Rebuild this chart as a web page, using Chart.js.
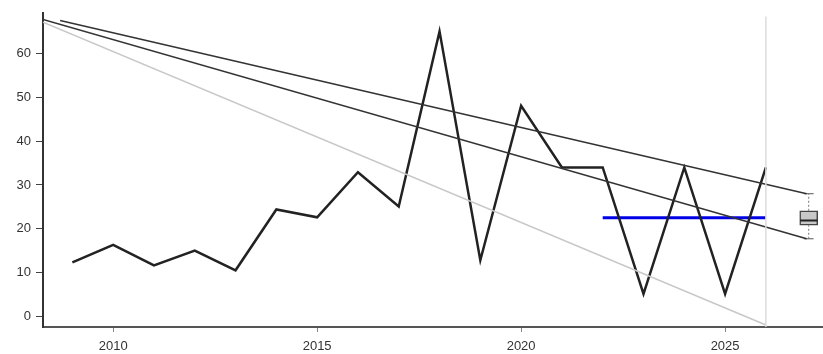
<!DOCTYPE html>
<html>
<head>
<meta charset="utf-8">
<script src="https://cdn.jsdelivr.net/npm/chart.js@4"></script>
<style>
  html, body { margin: 0; padding: 0; background: #fff; }
  #wrap { width: 823px; height: 354px; }
</style>
</head>
<body>
<div id="wrap"><canvas id="chart" width="823" height="354"></canvas></div>
<script>
// values
const years = [2009, 2010, 2011, 2012, 2013, 2014, 2015, 2016, 2017, 2018, 2019, 2020, 2021, 2022, 2023, 2024, 2025, 2026];
const values = [12.3, 16.3, 11.6, 15.0, 10.5, 24.4, 22.6, 32.9, 25.1, 65.1, 12.8, 48.1, 34.0, 34.0, 5.1, 34.0, 5.1, 34.0];

const upperTrendYears = [2008.7, 2027.0];
const upperTrend = [67.6, 28.0];
const lowerTrendYears = [2008.28, 2027.0];
const lowerTrend = [67.8, 17.7];
const grayTrendYears = [2008.28, 2026.0];
const grayTrend = [67.2, -2.0];

const meanYears = [2022, 2026];
const meanValue = 22.5;

const markerYear = 2026;

// box: min, q1, median, q3, max
const boxYear = 2027.05;
const boxStats = [17.7, 20.8, 21.9, 24.1, 28.0];

const xTicks = [2010, 2015, 2020, 2025];
const yTicks = [0, 10, 20, 30, 40, 50, 60];

const pts = (xs, ys) => xs.map((x, i) => ({ x: x, y: ys[i] }));

function lineSet(data, color, width, extra) {
    return Object.assign({
        type: 'line',
        data: data,
        borderColor: color,
        borderWidth: width,
        pointRadius: 0,
        fill: false,
        tension: 0
    }, extra || {});
}

const datasets = [
    lineSet([{ x: markerYear, y: -2.5 }, { x: markerYear, y: 68.5 }], '#dcdcdc', 1.5),
    lineSet(pts(grayTrendYears, grayTrend), '#c8c8c8', 1.5),
    lineSet(pts(upperTrendYears, upperTrend), '#333333', 1.5),
    lineSet(pts(lowerTrendYears, lowerTrend), '#333333', 1.5),
    lineSet(pts(years, values), '#222222', 2.5),
    lineSet(pts(meanYears, [meanValue, meanValue]), '#0000e6', 3),
    // whiskers
    lineSet([{ x: boxYear, y: boxStats[3] }, { x: boxYear, y: boxStats[4] }], '#777777', 1, { borderDash: [2, 2] }),
    lineSet([{ x: boxYear, y: boxStats[0] }, { x: boxYear, y: boxStats[1] }], '#777777', 1, { borderDash: [2, 2] }),
    lineSet([{ x: boxYear - 0.12, y: boxStats[4] }, { x: boxYear + 0.12, y: boxStats[4] }], '#555555', 1),
    lineSet([{ x: boxYear - 0.12, y: boxStats[0] }, { x: boxYear + 0.12, y: boxStats[0] }], '#555555', 1),
    lineSet([{ x: boxYear - 0.21, y: boxStats[2] }, { x: boxYear + 0.21, y: boxStats[2] }], '#222222', 2),
    {
        type: 'bar',
        data: [{ x: boxYear, y: [boxStats[1], boxStats[3]] }],
        backgroundColor: '#c8c8c8',
        borderColor: '#444444',
        borderWidth: 1.5,
        borderSkipped: false,
        barThickness: 18,
        grouped: false,
        order: 1
    }
];

const tickFont = { family: 'Liberation Sans, Arial, sans-serif', size: 13 };

new Chart(document.getElementById('chart'), {
    type: 'line',
    data: { datasets: datasets },
    options: {
        responsive: false,
        animation: false,
        layout: { padding: { top: 6, right: 0, left: 0, bottom: 0 } },
        plugins: { legend: { display: false }, tooltip: { enabled: false } },
        scales: {
            x: {
                type: 'linear',
                offset: false,
                min: 2008.28,
                max: 2027.4,
                afterBuildTicks: s => { s.ticks = xTicks.map(v => ({ value: v })); },
                afterFit: s => { s.height = 27; },
                ticks: { color: '#333', font: tickFont, padding: 7, maxRotation: 0, callback: v => String(v) },
                grid: { offset: false, drawOnChartArea: false, drawTicks: true, tickLength: 5, color: '#888', lineWidth: 1 },
                border: { display: true, color: '#555', width: 2 }
            },
            y: {
                type: 'linear',
                min: -2.46,
                max: 69.35,
                afterBuildTicks: s => { s.ticks = yTicks.map(v => ({ value: v })); },
                afterFit: s => { s.width = 43; },
                ticks: { color: '#333', font: tickFont, padding: 5 },
                grid: { drawOnChartArea: false, drawTicks: true, tickLength: 7, color: '#444', lineWidth: 1 },
                border: { display: true, color: '#333', width: 2 }
            }
        }
    }
});
</script>
</body>
</html>
